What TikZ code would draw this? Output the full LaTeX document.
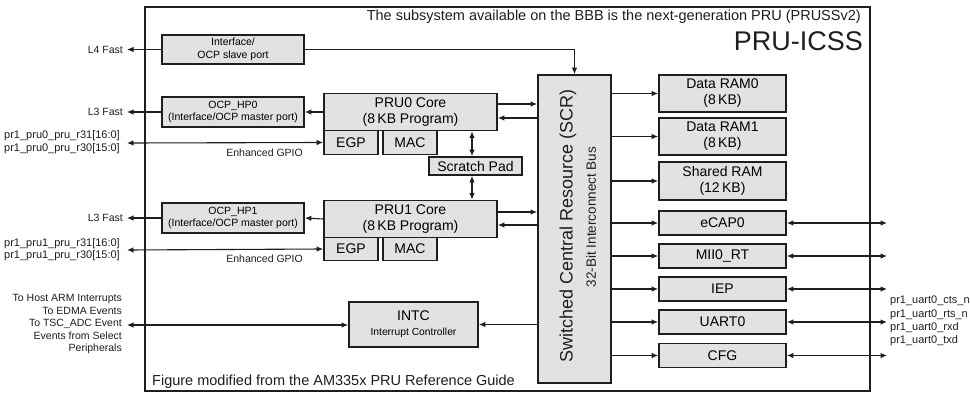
\documentclass[tikz,border=0pt]{standalone}
\usepackage{fontspec}
\setmainfont{Liberation Sans}
\usetikzlibrary{arrows.meta}
\newcommand{\fsz}[2]{\fontsize{#1}{#2}\selectfont}
\definecolor{boxgray}{RGB}{226,226,226}
\definecolor{ink}{RGB}{30,30,30}
\tikzset{
  blk/.style={draw=ink, line width=1.7pt, fill=boxgray, inner sep=0pt, align=center, font=\fsz{14}{16}},
  sblk/.style={blk, font=\fsz{10.5}{12.5}},
  arr/.style={-{Latex[length=6.5pt,width=5.5pt]}, line width=1.1pt, draw=ink},
  darr/.style={{Latex[length=6.5pt,width=5.5pt]}-{Latex[length=6.5pt,width=5.5pt]}, line width=1.1pt, draw=ink},
  lbl/.style={inner sep=0pt, text=ink, font=\fsz{10.5}{12.5}},
}
\begin{document}
\begin{tikzpicture}[x=1pt,y=-1pt]
\useasboundingbox (0,0) rectangle (970,394);
\fill[white] (0,0) rectangle (970,394);
% outer frame
\draw[ink, line width=2.4pt] (145,7) rectangle (870,391);
\node[lbl, anchor=east, font=\fsz{14.5}{16}] (title) at (861,17) {The subsystem available on the BBB is the next-generation PRU (PRUSSv2)};
\node[lbl, anchor=east, font=\fsz{27}{30}] (pruicss) at (863,41) {PRU-ICSS};
\node[lbl, anchor=west, font=\fsz{14.5}{16}] (fig) at (152,382) {Figure modified from the AM335x PRU Reference Guide};

% left blocks
\node[sblk, minimum width=142pt, minimum height=29pt] (slave) at (233,49.5) {Interface/\\OCP slave port};
\node[sblk, minimum width=142pt, minimum height=30pt] (hp0) at (233,112) {OCP\_HP0\\(Interface/OCP master port)};
\node[sblk, minimum width=142pt, minimum height=30pt] (hp1) at (233,218) {OCP\_HP1\\(Interface/OCP master port)};

% PRU0
\node[blk, minimum width=173pt, minimum height=37pt] (pru0) at (410.5,112) {PRU0 Core\\(8\,KB Program)};
\node[blk, minimum width=54pt, minimum height=24pt] (egp0) at (351,142.5) {EGP};
\node[blk, minimum width=54pt, minimum height=24pt] (mac0) at (410,142.5) {MAC};
\node[blk, minimum width=93pt, minimum height=18pt] (scratch) at (475.5,166) {Scratch Pad};
% PRU1
\node[blk, minimum width=173pt, minimum height=37pt] (pru1) at (410.5,219) {PRU1 Core\\(8\,KB Program)};
\node[blk, minimum width=54pt, minimum height=23pt] (egp1) at (351,249) {EGP};
\node[blk, minimum width=54pt, minimum height=23pt] (mac1) at (410,249) {MAC};
% INTC
\node[blk, minimum width=129pt, minimum height=45pt] (intc) at (413.5,324.5) {INTC\\[-1pt]{\fsz{10.3}{11}Interrupt Controller}};
% SCR
\node[blk, minimum width=73pt, minimum height=308pt] (scr) at (574.5,229) {};
\node[lbl, rotate=90, font=\fsz{18}{20}] (scrt) at (568,226) {Switched Central Resource (SCR)};
\node[lbl, rotate=90, font=\fsz{13.5}{15}] (scrb) at (591,217) {32-Bit Interconnect Bus};

% right blocks
\node[blk, minimum width=127pt, minimum height=37pt] (ram0) at (722.5,93.5) {Data RAM0\\(8\,KB)};
\node[blk, minimum width=127pt, minimum height=37pt] (ram1) at (722.5,136.5) {Data RAM1\\(8\,KB)};
\node[blk, minimum width=127pt, minimum height=38pt] (sram) at (722.5,181) {Shared RAM\\(12\,KB)};
\node[blk, minimum width=127pt, minimum height=24pt] (ecap) at (722.5,223) {eCAP0};
\node[blk, minimum width=127pt, minimum height=24pt] (mii) at (722.5,256) {MII0\_RT};
\node[blk, minimum width=127pt, minimum height=24pt] (iep) at (722.5,289) {IEP};
\node[blk, minimum width=127pt, minimum height=24pt] (uart) at (722.5,322) {UART0};
\node[blk, minimum width=127pt, minimum height=24pt] (cfg) at (722.5,355.5) {CFG};

% free ends
\coordinate (l4) at (127,49.5);
\coordinate (l3a) at (127,112);
\coordinate (l3b) at (127,218);
\coordinate (g0) at (127,143);
\coordinate (g1) at (127,250);
\coordinate (ie) at (127,325);
\coordinate (re1) at (887,223);
\coordinate (re2) at (887,256);
\coordinate (re3) at (887,289);
\coordinate (re4) at (887,322);
\coordinate (re5) at (887,355.5);

% left labels
\node[lbl, anchor=east] (tl4) at (123,49.5) {L4 Fast};
\node[lbl, anchor=east] (tl3a) at (123,112) {L3 Fast};
\node[lbl, anchor=east] (tl3b) at (123,218) {L3 Fast};
\node[lbl, anchor=east, align=right, font=\fsz{11}{12.5}] (tg0) at (120,142) {pr1\_pru0\_pru\_r31[16:0]\\pr1\_pru0\_pru\_r30[15:0]};
\node[lbl, anchor=east, align=right, font=\fsz{11}{12.5}] (tg1) at (120,249.5) {pr1\_pru1\_pru\_r31[16:0]\\pr1\_pru1\_pru\_r30[15:0]};
\node[lbl, anchor=east] (eg0) at (303,153) {Enhanced GPIO};
\node[lbl, anchor=east] (eg1) at (303,259) {Enhanced GPIO};
\node[lbl, anchor=east, align=right] (tint) at (122,324) {To Host ARM Interrupts\\To EDMA Events\\To TSC\_ADC Event\\Events from Select\\Peripherals};
\node[lbl, anchor=west, align=left, font=\fsz{11}{13.3}] (tuart) at (890,321) {pr1\_uart0\_cts\_n\\pr1\_uart0\_rts\_n\\pr1\_uart0\_rxd\\pr1\_uart0\_txd};

% connectors left
\draw[arr] (slave.west) -- (l4);
\draw[arr] (slave.east) -| (scr.north);
\draw[arr] (hp0.west) -- (l3a);
\draw[arr] (hp1.west) -- (l3b);
\draw[arr] (pru0.west) -- (hp0.east);
\draw[arr] (pru1.west) -- (hp1.east);
\draw[darr] (g0) -- (egp0.west);
\draw[darr] (g1) -- (egp1.west);
\draw[arr] (pru0.east |- 0,104) -- (scr.west |- 0,104);
\draw[arr] (scr.west |- 0,118) -- (pru0.east |- 0,118);
\draw[arr] (pru1.east |- 0,212) -- (scr.west |- 0,212);
\draw[arr] (scr.west |- 0,225) -- (pru1.east |- 0,225);
\draw[darr] (pru0.south -| 472,0) -- (scratch.north -| 472,0);
\draw[darr] (scratch.south -| 472,0) -- (pru1.north -| 472,0);
\draw[arr] (scr.west |- intc.east) -- (intc.east);
\draw[darr] (ie) -- (intc.west |- ie);

% connectors right
\foreach \b in {ram0,ram1,sram,ecap,mii,iep,uart,cfg}
  \draw[arr] (scr.east |- \b.west) -- (\b.west);
\draw[darr] (ecap.east) -- (re1);
\draw[darr] (mii.east) -- (re2);
\draw[darr] (iep.east) -- (re3);
\draw[darr] (uart.east) -- (re4);
\draw[darr] (cfg.east) -- (re5);
\end{tikzpicture}
\end{document}
